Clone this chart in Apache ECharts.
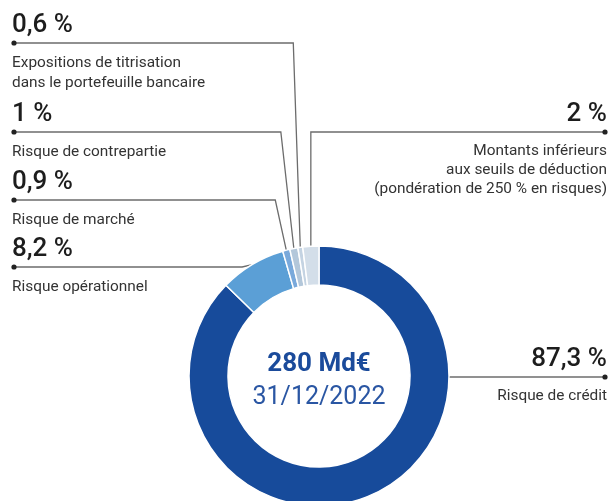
<!DOCTYPE html>
<html>
<head>
  <meta charset="utf-8">
  <title>Emplois pondérés</title>
  <script src="https://cdn.jsdelivr.net/npm/echarts@6.0.0/dist/echarts.min.js"></script>
  <style>
    html, body { margin: 0; padding: 0; background: #fff; }
  </style>
</head>
<body>
  <div id="main" style="width: 612px; height: 501px;"></div>

  <script>
    // données (ordre horaire depuis midi)
    var categories = [
      'Risque de crédit',
      'Risque opérationnel',
      'Risque de marché',
      'Risque de contrepartie',
      'Expositions de titrisation\ndans le portefeuille bancaire',
      'Montants inférieurs\naux seuils de déduction\n(pondération de 250 % en risques)'
    ];
    var shares = [87.3, 8.2, 0.9, 1, 0.6, 2];
    var totalText = '280 Md€';
    var dateText = '31/12/2022';

    var sliceColors = ['#174b9b', '#5b9fd6', '#79a9db', '#b3c7da', '#c4d3e2', '#d3dee9'];

    // géométrie
    var CX = 319, CY = 376, R0 = 91, R1 = 130;
    var LEFT_X = 12, RIGHT_X = 607, DOT_L = 14, DOT_R = 605;
    // position de chaque étiquette (même ordre que les données)
    var labelPos = [
      { side: 'right', lineY: 377, bend: 0 },
      { side: 'left', lineY: 267, bend: 10 },
      { side: 'left', lineY: 200, bend: 11 },
      { side: 'left', lineY: 132, bend: 13 },
      { side: 'left', lineY: 43, bend: 7 },
      { side: 'right', lineY: 132, bend: 0 }
    ];

    function fmtPct(v) {
      return String(v).replace('.', ',') + ' %';
    }

    var chartDom = document.getElementById('main');
    var myChart = echarts.init(chartDom, null, { renderer: 'canvas' });

    var font = 'Roboto';
    var rich = {
      vl: { fontFamily: font, fontSize: 26, fontWeight: 500, lineHeight: 30, color: '#1d1d1d', align: 'left' },
      vr: { fontFamily: font, fontSize: 26, fontWeight: 500, lineHeight: 30, color: '#1d1d1d', align: 'right' },
      s: { fontSize: 1, lineHeight: 13 },
      dl: { fontFamily: font, fontSize: 15.4, lineHeight: 20, color: '#333', align: 'left' },
      dr: { fontFamily: font, fontSize: 15.4, lineHeight: 19, color: '#333', align: 'right' }
    };

    var pieData = shares.map(function (v, i) {
      return { name: categories[i], value: v, itemStyle: { color: sliceColors[i] } };
    });

    var graphics = labelPos.map(function (p) {
      return {
        type: 'circle',
        shape: { cx: p.side === 'left' ? DOT_L : DOT_R, cy: p.lineY, r: 2.6 },
        style: { fill: '#222' },
        z: 100
      };
    });
    graphics.push({
      type: 'text',
      style: {
        x: CX, y: 364, text: totalText, fill: '#1b4b9b',
        font: 'bold 26px Roboto', textAlign: 'center', textVerticalAlign: 'middle'
      }
    });
    graphics.push({
      type: 'text',
      style: {
        x: CX, y: 398, text: dateText, fill: '#2a56a3',
        font: '25px Roboto', textAlign: 'center', textVerticalAlign: 'middle'
      }
    });

    var option = {
      animation: false,
      graphic: graphics,
      series: [
        {
          type: 'pie',
          silent: true,
          center: [CX, CY],
          radius: [R0, R1],
          startAngle: 90,
          clockwise: true,
          avoidLabelOverlap: false,
          itemStyle: { borderColor: '#fff', borderWidth: 1.5 },
          label: {
            show: true,
            position: 'outside',
            fontFamily: font,
            formatter: function (params) {
              var i = params.dataIndex;
              var r = labelPos[i].side === 'right';
              return '{' + (r ? 'vr' : 'vl') + '|' + fmtPct(shares[i]) + '}\n{s| }\n{' +
                (r ? 'dr' : 'dl') + '|' + categories[i] + '}';
            },
            rich: rich
          },
          labelLine: {
            show: true,
            length: 10,
            length2: 10,
            lineStyle: { color: '#6c6c6c', width: 1.3 }
          },
          labelLayout: function (params) {
            var i = params.dataIndex;
            var p = labelPos[i];
            var pts = params.labelLinePoints;
            var start = i === 0 ? [CX + R1, p.lineY] : pts[0];
            var bendX = start[0] - p.bend;
            var end = [p.side === 'left' ? DOT_L : DOT_R, p.lineY];
            return {
              x: p.side === 'left' ? LEFT_X : RIGHT_X,
              y: p.lineY - 33,
              align: p.side,
              verticalAlign: 'top',
              labelLinePoints: [start, [bendX, p.lineY], end]
            };
          },
          data: pieData
        }
      ]
    };

    myChart.setOption(option);
  </script>
</body>
</html>
